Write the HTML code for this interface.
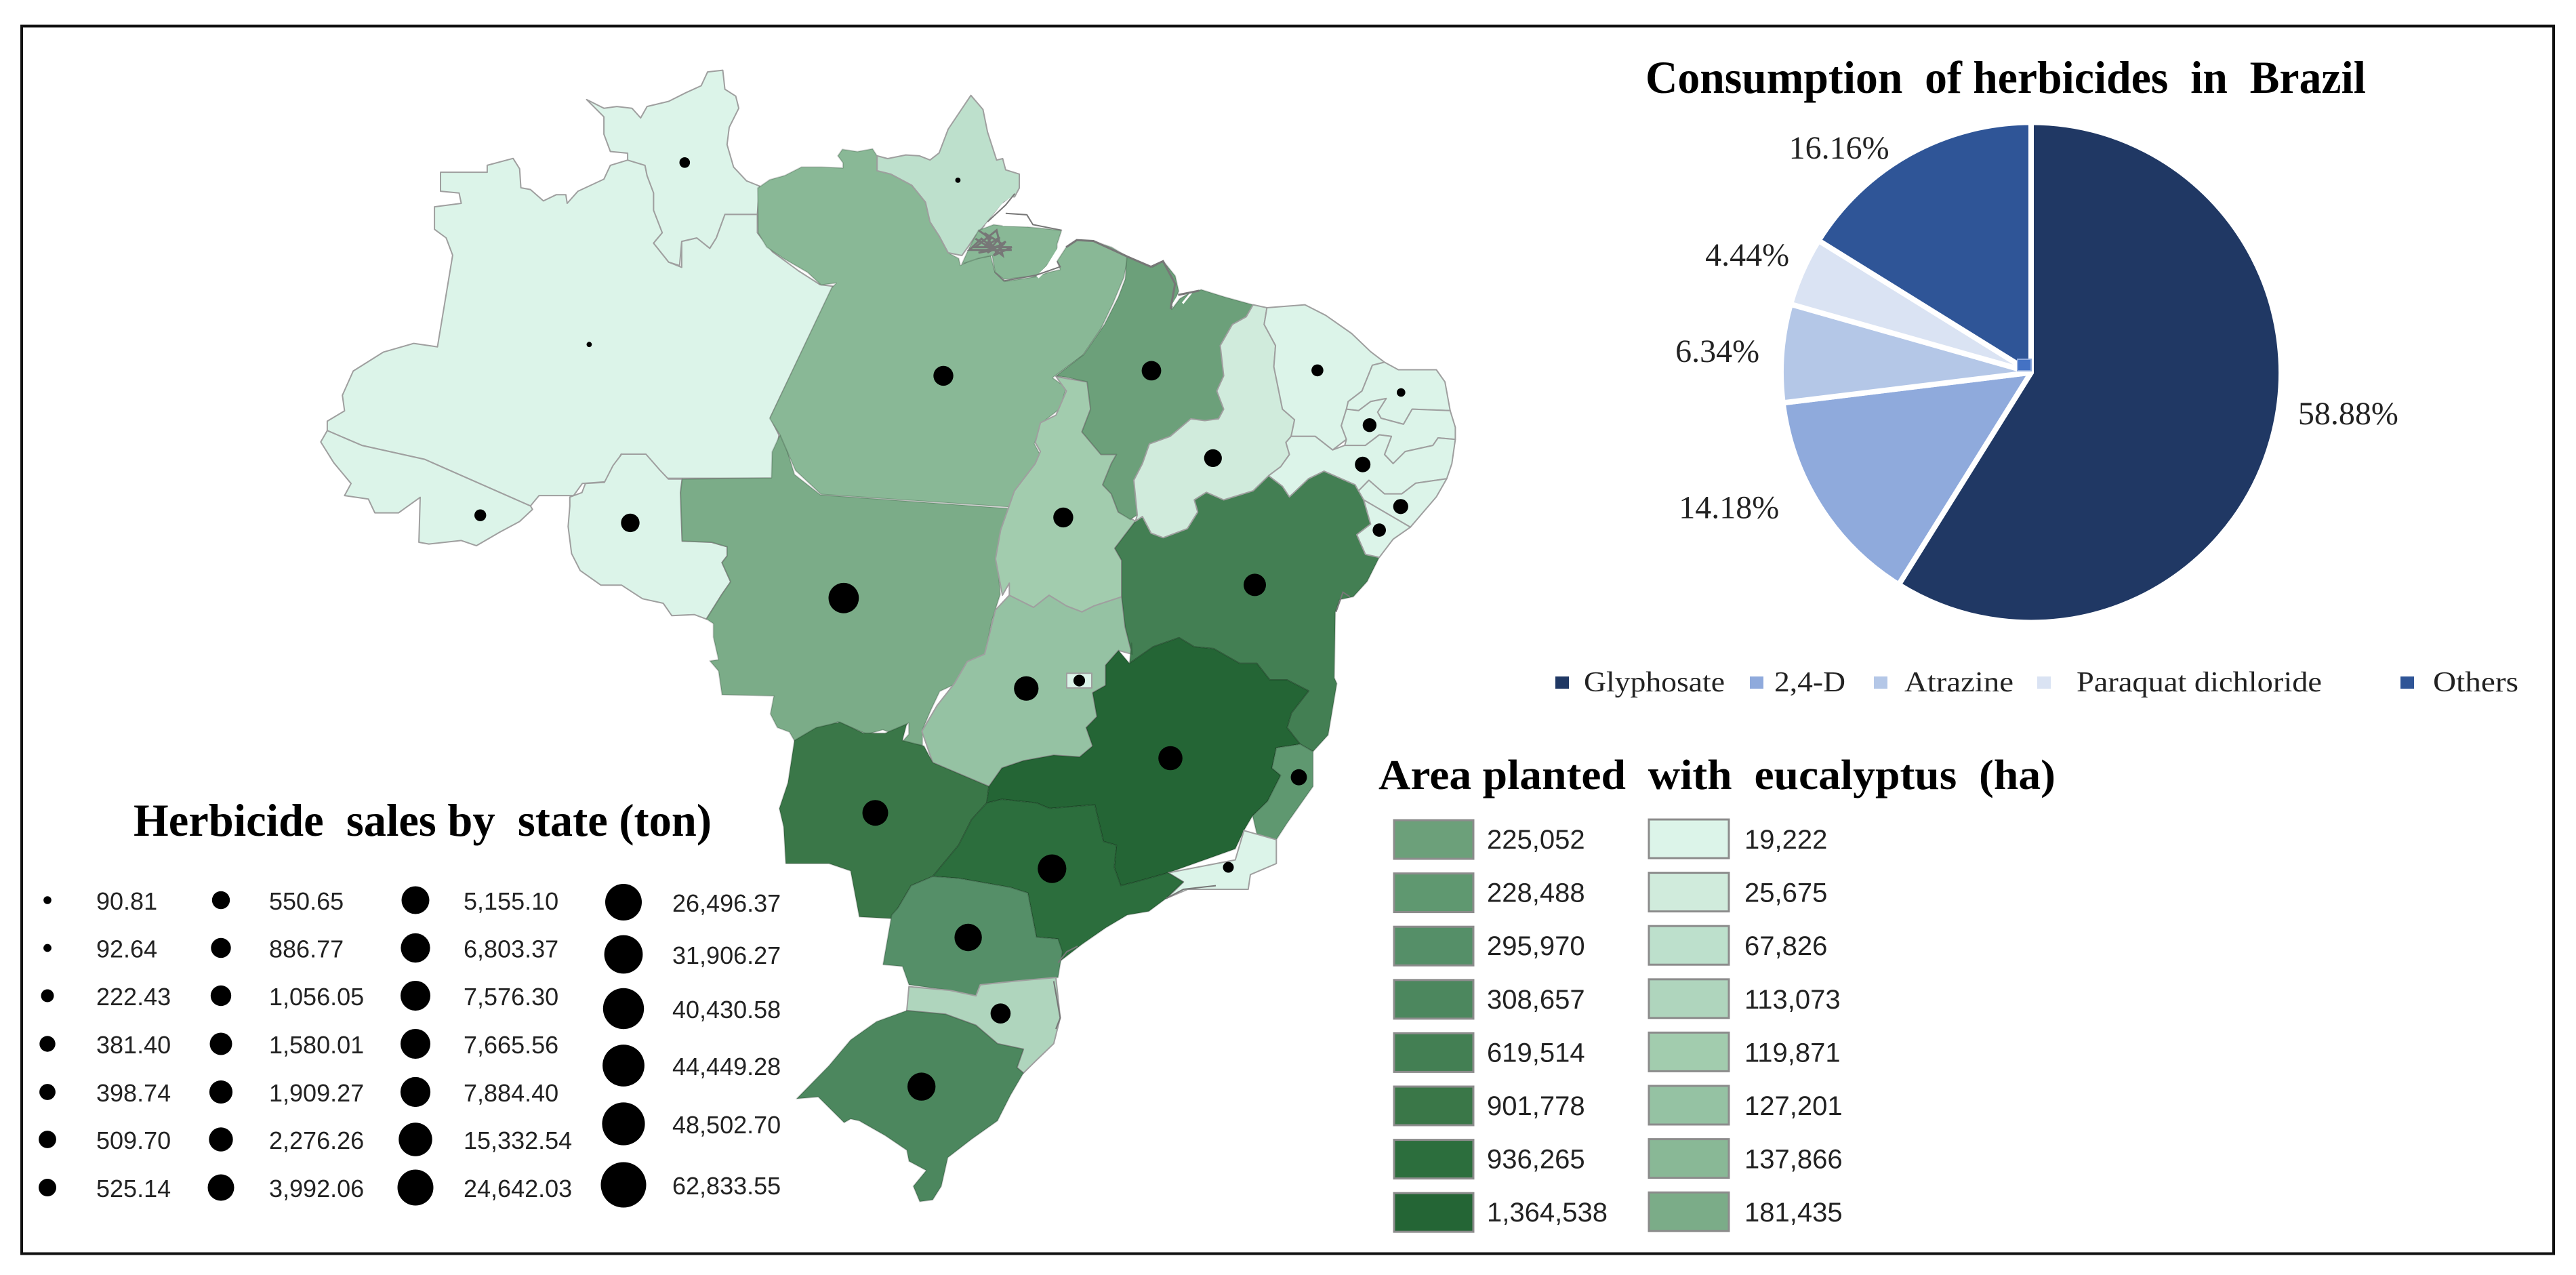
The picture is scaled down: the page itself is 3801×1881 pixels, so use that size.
<!DOCTYPE html>
<html lang="en">
<head>
<meta charset="utf-8">
<title>Herbicide consumption and eucalyptus area in Brazil</title>
<style>
html,body{margin:0;padding:0;background:#fff;width:3801px;height:1881px;overflow:hidden}
svg{display:block}
text{white-space:pre}
.serif{font-family:"Liberation Serif","Noto Serif CJK SC",serif}
.sans{font-family:"Liberation Sans","Noto Sans CJK SC",sans-serif}
</style>
</head>
<body>
<svg id="root" xmlns="http://www.w3.org/2000/svg" width="3801" height="1881" viewBox="0 0 3801 1881">
  <rect x="32" y="38.5" width="3736" height="1811" fill="#fff" stroke="#111" stroke-width="4"/>
  <g id="map"></g>
  <g id="map-dots"></g>
  <text class="serif" x="2428" y="137" font-size="68" font-weight="700" textLength="1063" lengthAdjust="spacingAndGlyphs">Consumption  of herbicides  in  Brazil</text>
  <g id="pie"></g>
  <g id="pie-legend"></g>
  <text class="serif" x="2034" y="1164" font-size="62" font-weight="700" textLength="999" lengthAdjust="spacingAndGlyphs">Area planted  with  eucalyptus  (ha)</text>
  <g id="area-legend"></g>
  <text class="serif" x="197" y="1233" font-size="68" font-weight="700" textLength="853" lengthAdjust="spacingAndGlyphs">Herbicide  sales by  state (ton)</text>
  <g id="sales-legend"></g>
</svg>
<script>
// ---- chart data ----
const pieCategories = ['Glyphosate', '2,4-D', 'Atrazine', 'Paraquat dichloride', 'Others'];
const pieValues = [58.88, 14.18, 6.34, 4.44, 16.16];
const pieColors = ['#203864', '#8faadc', '#b4c7e7', '#dae3f3', '#2f5597'];

const areaValues = [225052, 228488, 295970, 308657, 619514, 901778, 936265, 1364538, 19222, 25675, 67826, 113073, 119871, 127201, 137866, 181435];
const areaColors = ['#6ca07a', '#5f9870', '#558f68', '#4c875e', '#437f53', '#3a7748', '#2c6e3d', '#246535', '#dcf4e9', '#d0ebdc', '#bde0cc', '#afd5bd', '#a2ccae', '#95c2a3', '#89b896', '#7bac88'];

const salesValues = [90.81, 92.64, 222.43, 381.40, 398.74, 509.70, 525.14, 550.65, 886.77, 1056.05, 1580.01, 1909.27, 2276.26, 3992.06, 5155.10, 6803.37, 7576.30, 7665.56, 7884.40, 15332.54, 24642.03, 26496.37, 31906.27, 40430.58, 44449.28, 48502.70, 62833.55];

const stateCodes = ['AM','RR','AC','RO','MT','GO','PA','AP','MA','TO','MS','MG','BA','ES','RJ','SP','PR','SC','RS','PI','CE','RN','PB','PE','AL','SE','DF'];
const stateArea = [19222,19222,19222,19222,181435,127201,137866,67826,225052,119871,901778,1364538,619514,228488,19222,936265,295970,113073,308657,25675,19222,19222,19222,19222,19222,19222,19222];
const stateSales = [92.64,381.40,525.14,5155.10,62833.55,26496.37,7665.56,90.81,6803.37,7576.30,31906.27,24642.03,15332.54,2276.26,398.74,48502.70,40430.58,7884.40,44449.28,3992.06,550.65,222.43,1056.05,1909.27,1580.01,886.77,509.70];

// ---- scales ----
const sizeDomain = [90, 525, 3992, 24642, 62833];
const sizeRange = [11.5, 26, 39, 53, 67];
function sizeScale(v){
  const l = Math.log(Math.max(v, 1));
  for (let i = 0; i < sizeDomain.length - 1; i++){
    const a = Math.log(sizeDomain[i]), b = Math.log(sizeDomain[i + 1]);
    if (l <= b || i === sizeDomain.length - 2){
      return sizeRange[i] + (l - a) / (b - a) * (sizeRange[i + 1] - sizeRange[i]);
    }
  }
}
function areaColor(v){
  const i = areaValues.indexOf(v);
  return i >= 0 ? areaColors[i] : '#dcf4e9';
}
function formatNum(v, d){
  return v.toLocaleString('en-US', {minimumFractionDigits: d, maximumFractionDigits: d});
}

// ---- geography: reference frames used to trace the outlines ----
const F = {a:[400,50,1000,800,1568], b:[1400,300,800,700,1568], c:[1000,900,1000,850,1568], d:[800,650,800,500,1500], e:[1100,120,700,650,1568]};
function Z(f, s){
  const r = F[f];
  return s.trim().split(/\s+/).map(function(p){
    const q = p.split(',').map(Number);
    return (r[0] + q[0] * r[2] / 1568).toFixed(1) + ',' + (r[1] + q[1] * r[3] / r[4]).toFixed(1);
  }).join(' ');
}
const outlines = {
  MT:[['d','690,-30 680,0 665,50 663,165 405,170 400,230 405,445 490,450 535,470 535,510 520,540 545,625 520,680 475,790 495,810 495,870 510,970 485,975 510,1020 520,1125 670,1130 660,1210 680,1270 715,1290 730,1330 790,1290 855,1245 940,1300 985,1280 1020,1300 1060,1250 1060,1300 1040,1335 1100,1350 1100,1280 1125,1190 1150,1110 1220,1060 1240,975 1280,950 1300,800 1325,680 1315,500 1350,300 805,240 730,150 700,0']],
  AM:[['a','392,400 500,400 500,380 560,360 575,390 578,445 600,450 630,483 660,465 682,465 685,490 710,455 770,420 785,380 825,365 865,380 870,410 885,460 885,510 905,575 885,605 920,660 950,675 950,600 985,590 1015,620 1030,590 1050,522 1125,522 1125,575 1160,630 1220,685 1270,725 1300,730 1155,1110 1175,1160 1160,1285 945,1285 915,1285 870,1225 810,1215 775,1295 720,1300 700,1335 620,1335 600,1365 355,1230 210,1190 130,1147 130,1120 170,1090 165,1045 190,975 260,920 330,895 385,905 420,640 405,590 378,565 378,500 440,490 435,460 392,455']],
  RR:[['a','730,190 770,215 800,210 835,215 855,243 870,210 920,195 960,170 995,150 1010,110 1045,105 1050,160 1075,180 1082,215 1060,270 1055,320 1070,385 1100,425 1130,440 1125,522 1050,522 1030,590 1015,620 985,590 950,600 945,670 920,660 885,605 905,575 885,510 885,460 870,410 865,380 825,365 825,345 785,340 770,290 770,240']],
  AC:[['a','130,1147 115,1180 145,1240 185,1300 170,1335 225,1345 240,1385 295,1385 345,1340 342,1470 365,1475 440,1465 475,1480 530,1440 575,1410 605,1375 600,1365 355,1230 210,1190']],
  RO:[['d','230,60 300,60 340,130 365,170 405,170 400,230 405,445 490,450 535,470 535,510 520,540 545,625 520,680 475,790 440,770 375,775 350,720 290,700 230,640 170,640 110,575 85,500 75,380 80,290 80,250 115,230 125,190 180,185 205,110']],
  GO:[['b','175,1295 245,1335 290,1295 340,1330 385,1350 420,1330 500,1300 510,1400 530,1490'],['c','1020,110 990,150 990,205 960,225 970,290 945,320 960,370 930,400 870,395 800,410 750,430 720,480 590,415 565,330 600,260 640,200 670,140 710,120 735,0']],
  PA:[['e','40,380 80,350 130,335 185,305 250,305 322,308 322,290 305,265 320,242 370,250 420,240 435,265 435,318 480,330 550,370 595,430 610,500 640,550 670,610 705,630 710,655 745,635 810,620 825,680 855,712 960,695 1000,680 1040,670 1030,640 1060,590 1095,565 1150,568 1210,590 1265,625 1250,700 1215,790 1175,880 1115,975 1015,1055 1060,1090 1040,1165 980,1215 955,1290 975,1330 940,1410 900,1450 870,1515 250,1470 165,1385 115,1260 80,1200 285,735 300,718 250,725 205,680 125,630 70,590 42,540']],
  AP:[['e','435,265 470,275 530,262 575,265 610,280 640,255 670,170 745,50 785,100 800,180 830,280 850,275 860,315 905,330 905,380 890,410 855,430 800,500 760,550 735,590 715,620 670,610 640,550 610,500 595,430 550,370 480,330 435,318']],
  MJ:[['e','858,515 930,518 1045,530 1030,580 1030,610 1000,650 965,695 935,695 855,705 825,680 815,620 770,630 715,650 740,590 770,530 820,510']],
  MA:[['b','515,175 590,210 620,190 655,240 665,290 645,350 668,315 690,300 730,285 800,310 880,335 860,375 820,400 785,470 795,570 775,620 795,680 780,712 740,718 700,712 640,770 580,795 560,860 535,915 545,1030 525,1045 490,1020 470,960 445,930 470,860 485,830 440,830 385,755 410,680 400,590 340,575 310,570 390,500 450,400 490,310 510,250']],
  TO:[['b','310,572 345,580 400,590 410,680 385,755 440,830 485,830 470,860 445,930 470,960 490,1020 540,1050 480,1140 500,1180 500,1300 420,1330 385,1350 340,1330 290,1295 245,1335 175,1295 175,1255 155,1295 135,1175 150,1080 190,950 250,860 265,820 250,790 265,725 310,700 340,620']],
  MS:[['c','270,355 320,320 375,305 430,335 480,335 530,310 520,355 570,370 590,415 720,480 715,525 680,570 650,640 590,725 540,750 510,810 500,840 420,835 400,710 350,690 250,690 245,590 235,540 255,470']],
  MG:[['c','1045,145 1100,100 1160,75 1195,100 1240,105 1300,145 1340,145 1370,190 1410,190 1460,220 1420,280 1410,320 1440,365 1385,375 1375,430 1395,450 1365,520 1330,560 1310,600 1290,650 1135,715 1060,740 1025,750 1010,700 1015,640 985,630 965,530 860,540 830,525 750,515 715,525 720,480 750,430 800,410 870,395 930,400 960,370 945,320 970,290 960,225 990,205 990,150 1020,110']],
  BA:[['b','540,1050 560,1035 585,1090 620,1105 690,1075 720,1020 710,980 745,955 795,980 880,950 925,900 965,935 985,970 1040,910 1085,885 1175,930 1200,980 1220,1060 1180,1095 1205,1160 1245,1170 1210,1250 1170,1300 1130,1310 1118,1350 1115,1568'],['c','1525,200 1505,340 1470,385 1440,365 1410,320 1420,280 1460,220 1410,190 1370,190 1340,145 1300,145 1240,105 1195,100 1160,75 1100,100 1045,145 1050,90'],['b','530,1490 510,1400 500,1300 500,1180 480,1140']],
  ES:[['c','1385,375 1440,365 1470,385 1470,480 1440,530 1410,580 1385,625 1340,610 1330,560 1365,520 1395,450 1375,430']],
  RJ:[['c','1135,715 1290,680 1310,600 1340,610 1385,625 1385,690 1325,720 1320,760 1240,760 1180,760 1130,785 1170,740']],
  SP:[['c','715,525 750,515 830,525 860,540 965,530 985,630 1015,640 1010,700 1025,750 1060,740 1135,715 1170,740 1130,785 1090,820 1040,830 990,865 935,910 880,960 880,895 830,890 810,770 770,755 650,730 590,725 650,640 680,570']],
  PR:[['c','540,750 590,725 650,730 770,755 810,770 830,890 880,895 890,930 880,1000 780,1010 700,1020 690,1050 630,1035 535,1020 520,970 475,965 495,830 510,810']],
  SC:[['c','535,1025 630,1035 690,1050 700,1020 780,1010 875,1000 885,1110 870,1180 830,1225 800,1260 785,1245 800,1195 740,1180 690,1130 620,1100 530,1090']],
  RS:[['c','530,1090 620,1100 690,1130 740,1180 800,1195 785,1245 800,1260 770,1320 740,1390 680,1440 625,1490 610,1568 590,1605 560,1610 545,1568 575,1525 535,1500 530,1470 480,1430 420,1390 400,1385 385,1395 355,1360 325,1325 275,1330 300,1300 350,1240 400,1170 460,1120']],
  PI:[['b','880,335 920,345 912,400 945,470 940,540 965,680 1000,715 990,770 975,790 985,830 960,870 925,900 880,950 795,980 745,955 710,980 720,1020 690,1075 620,1105 585,1090 560,1035 540,1050 545,1030 535,915 560,860 580,795 640,770 700,712 740,718 780,712 795,680 775,620 795,570 785,470 820,400 860,375']],
  CE:[['b','920,345 1030,335 1090,370 1165,430 1220,490 1260,525 1225,535 1195,620 1155,655 1150,680 1135,735 1150,780 1110,815 1060,770 990,770 1000,715 965,680 940,540 945,470 912,400']],
  RN:[['b','1225,535 1260,525 1300,550 1410,550 1435,590 1450,685 1340,680 1315,730 1250,710 1240,690 1265,645 1220,655 1185,685 1150,680 1155,655 1195,620']],
  PB:[['b','1150,680 1185,685 1220,655 1265,645 1240,690 1250,710 1315,730 1340,680 1450,685 1465,740 1465,780 1415,775 1400,800 1320,820 1285,860 1260,830 1280,770 1245,765 1205,800 1145,800 1150,780 1135,735']],
  PE:[['b','990,770 1060,770 1110,815 1145,800 1205,800 1245,765 1280,770 1260,830 1285,860 1320,820 1400,800 1415,775 1465,780 1455,860 1440,910 1350,925 1310,960 1260,960 1215,915 1185,950 1175,930 1085,885 1040,910 985,970 965,935 925,900 960,870 985,830 975,790']],
  AL:[['b','1185,950 1215,915 1260,960 1310,960 1350,925 1440,910 1410,970 1335,1070 1200,980']],
  SE:[['b','1200,980 1335,1070 1285,1110 1245,1170 1205,1160 1180,1095 1220,1060']],
  DF:[['c','900,172 958,172 958,212 900,212']]
};
const stateFrames = {AM:['a','736,898'],RR:['a','957,372'],AC:['a','484,1392'],RO:['a','831,1414'],MT:['d','872,697'],GO:['d','1400,1097'],PA:['e','654,1048'],AP:['e','702,352'],MA:['b','586,553'],TO:['b','331,1038'],MS:['c','457,552'],MG:['c','1140,403'],BA:['b','885,1261'],ES:['c','1437,455'],RJ:['c','1274,700'],SP:['c','866,704'],PR:['c','672,891'],SC:['c','747,1098'],RS:['c','564,1297'],PI:['b','764,842'],CE:['b','1066,552'],RN:['b','1308,625'],PB:['b','1217,733'],PE:['b','1197,863'],AL:['b','1307,1002'],SE:['b','1245,1080'],DF:['c','929,192']};
const drawOrder = ['AM','RR','AC','RO','MT','GO','PA','AP','MJ','TO','MA','MS','BA','MG','ES','RJ','SP','PR','SC','RS','PI','CE','RN','PB','PE','AL','SE','DF'];
const NS = 'http://www.w3.org/2000/svg';

// ---- map ----
const mapG = document.getElementById('map');
drawOrder.forEach(function(code){
  const poly = document.createElementNS(NS, 'polygon');
  poly.setAttribute('points', outlines[code].map(function(p){ return Z(p[0], p[1]); }).join(' '));
  const idx = stateCodes.indexOf(code === 'MJ' ? 'PA' : code);
  const light = stateArea[idx] < 130000;
  poly.setAttribute('fill', areaColor(stateArea[idx]));
  poly.setAttribute('stroke', light ? '#9f9f9f' : '#000');
  poly.setAttribute('stroke-opacity', light ? '1' : '0.16');
  poly.setAttribute('stroke-width', '2');
  poly.setAttribute('stroke-linejoin', 'round');
  
  
  mapG.appendChild(poly);
});
const coastDetails = [
  ['#ffffff', 5, 'e', '965,697 1000,660 1040,590 1052,565'],
  ['#ffffff', 4, 'e', '795,515 850,440 885,412'],
  ['#ffffff', 4, 'e', '850,510 930,512'],
  ['#ffffff', 3, 'e', '1410,800 1435,755'],
  ['#ffffff', 3, 'e', '1445,790 1475,750'],
  ['#777777', 3, 'e', '1060,590 1095,565 1150,568 1265,625 1340,660 1380,640 1420,720 1405,810'],
  ['#777777', 3, 'e', '1430,760 1500,745'],
  ['#777777', 3, 'e', '770,530 810,560 790,590 840,555 800,610 860,570 820,620 880,590 760,590 830,530 850,620 780,560 740,600 880,600'],
  ['#777777', 3, 'e', '760,560 820,600 770,610 850,580 790,540 830,610'],
  ['#777777', 2, 'e', '825,680 855,710 960,690 1040,660 1030,640'],
  ['#777777', 2, 'e', '800,500 860,440 890,400'],
  ['#777777', 2, 'e', '860,470 930,475 950,510 1045,530'],
  ['#777777', 2, 'b', '1120,1350 1140,1285 1160,1300'],
  ['#777777', 2, 'c', '1130,785 1170,760 1245,750'],
  ['#777777', 2, 'c', '880,960 900,930 925,915'],
  ['#777777', 2, 'c', '870,1010 885,1110 875,1140']
];
coastDetails.forEach(function(row){
  const line = document.createElementNS(NS, 'polyline');
  line.setAttribute('points', Z(row[2], row[3]));
  line.setAttribute('fill', 'none');
  line.setAttribute('stroke', row[0]);
  line.setAttribute('stroke-width', row[1]);
  
  
  mapG.appendChild(line);
});
const dotG = document.getElementById('map-dots');
stateCodes.forEach(function(code, i){
  const p = Z(stateFrames[code][0], stateFrames[code][1]).split(',');
  const dot = document.createElementNS(NS, 'circle');
  dot.setAttribute('cx', p[0]);
  dot.setAttribute('cy', p[1]);
  dot.setAttribute('r', (sizeScale(stateSales[i]) * 0.67 / 2).toFixed(1));
  dot.setAttribute('fill', '#000');
  
  
  dotG.appendChild(dot);
});

// ---- pie ----
const PIE_CX = 2997, PIE_CY = 549.5, PIE_R = 369;
const pieLabelOffsets = [[117,-40],[-138,3],[-99,-3.5],[-85,-26],[-106,-12.5]];
function pieAngle(v, total){ return v / total * Math.PI * 2; }
function piePoint(a, r){ return [PIE_CX + r * Math.sin(a), PIE_CY - r * Math.cos(a)]; }
const pieG = document.getElementById('pie');
const pieTotal = pieValues.reduce(function(s, v){ return s + v; }, 0);
let pieCursor = 0;
pieValues.forEach(function(v, i){
  const a0 = pieCursor, a1 = pieCursor + pieAngle(v, pieTotal);
  pieCursor = a1;
  const s = piePoint(a0, PIE_R), e = piePoint(a1, PIE_R);
  const slice = document.createElementNS(NS, 'path');
  slice.setAttribute('d', 'M' + PIE_CX + ' ' + PIE_CY + 'L' + s[0] + ' ' + s[1] + 'A' + PIE_R + ' ' + PIE_R + ' 0 ' + (a1 - a0 > Math.PI ? 1 : 0) + ' 1 ' + e[0] + ' ' + e[1] + 'Z');
  slice.setAttribute('fill', pieColors[i]);
  slice.setAttribute('stroke', '#fff');
  slice.setAttribute('stroke-width', '8');
  slice.setAttribute('stroke-linejoin', 'round');
  
  
  pieG.appendChild(slice);
  const rim = piePoint((a0 + a1) / 2, PIE_R - 4);
  const label = document.createElementNS(NS, 'text');
  label.setAttribute('x', (rim[0] + pieLabelOffsets[i][0]).toFixed(1));
  label.setAttribute('y', (rim[1] + pieLabelOffsets[i][1] + 16).toFixed(1));
  label.setAttribute('text-anchor', 'middle');
  label.setAttribute('class', 'serif');
  label.setAttribute('font-size', '48');
  label.setAttribute('fill', '#222');
  
  
  label.textContent = v.toFixed(2) + '%';
  pieG.appendChild(label);
});
const pieCentre = document.createElementNS(NS, 'rect');
pieCentre.setAttribute('x', '2977');
pieCentre.setAttribute('y', '530');
pieCentre.setAttribute('width', '20');
pieCentre.setAttribute('height', '17');
pieCentre.setAttribute('fill', '#4472c4');
pieCentre.setAttribute('stroke', '#8faadc');
pieCentre.setAttribute('stroke-width', '2');


pieG.appendChild(pieCentre);

// ---- pie legend ----
const pieLegendSwatchX = [2295, 2582, 2765, 3006, 3542];
const pieLegendTextX = [2337, 2618, 2810, 3064, 3590];
const pieLegendTextW = [208, 105, 161, 362, 126];
const pieLegG = document.getElementById('pie-legend');
pieCategories.forEach(function(name, i){
  const sw = document.createElementNS(NS, 'rect');
  sw.setAttribute('x', pieLegendSwatchX[i]);
  sw.setAttribute('y', '998');
  sw.setAttribute('width', '20');
  sw.setAttribute('height', '18');
  sw.setAttribute('fill', pieColors[i]);
  
  
  pieLegG.appendChild(sw);
  const t = document.createElementNS(NS, 'text');
  t.setAttribute('x', pieLegendTextX[i]);
  t.setAttribute('y', '1020');
  t.setAttribute('class', 'serif');
  t.setAttribute('font-size', '42');
  t.setAttribute('fill', '#222');
  t.setAttribute('textLength', pieLegendTextW[i]);
  t.setAttribute('lengthAdjust', 'spacingAndGlyphs');
  
  
  t.textContent = name;
  pieLegG.appendChild(t);
});

// ---- eucalyptus area legend ----
const areaG = document.getElementById('area-legend');
areaValues.forEach(function(v, i){
  const col = i < 8 ? 0 : 1, row = i % 8;
  const sw = document.createElementNS(NS, 'rect');
  sw.setAttribute('x', col ? 2433 : 2057);
  sw.setAttribute('y', (col ? 1209 : 1210) + row * 78.6);
  sw.setAttribute('width', col ? 118 : 117);
  sw.setAttribute('height', '57');
  sw.setAttribute('fill', areaColors[i]);
  sw.setAttribute('stroke', '#8c8c8c');
  sw.setAttribute('stroke-width', '3');
  
  
  areaG.appendChild(sw);
  const t = document.createElementNS(NS, 'text');
  t.setAttribute('x', col ? 2574 : 2194);
  t.setAttribute('y', 1252 + row * 78.6);
  t.setAttribute('class', 'sans');
  t.setAttribute('font-size', '40');
  t.setAttribute('fill', '#222');
  
  
  t.textContent = formatNum(v, 0);
  areaG.appendChild(t);
});

// ---- sales legend ----
const salesDotX = [70, 326, 613, 920];
const salesTextX = [142, 397, 684, 992];
const salesRowY = [1328, 1398.5, 1469, 1540, 1611, 1681, 1752];
const salesRowYLast = [1331, 1408, 1488, 1572, 1658, 1748];
const salesG = document.getElementById('sales-legend');
salesValues.forEach(function(v, i){
  const col = Math.floor(i / 7), row = i % 7;
  const y = col === 3 ? salesRowYLast[row] : salesRowY[row];
  const dot = document.createElementNS(NS, 'circle');
  dot.setAttribute('cx', salesDotX[col]);
  dot.setAttribute('cy', y);
  dot.setAttribute('r', (sizeScale(v) / 2).toFixed(1));
  dot.setAttribute('fill', '#000');
  
  
  salesG.appendChild(dot);
  const t = document.createElementNS(NS, 'text');
  t.setAttribute('x', salesTextX[col]);
  t.setAttribute('y', y + 14);
  t.setAttribute('class', 'sans');
  t.setAttribute('font-size', '36');
  t.setAttribute('fill', '#222');
  
  
  t.textContent = formatNum(v, 2);
  salesG.appendChild(t);
});
</script>
</body>
</html>
